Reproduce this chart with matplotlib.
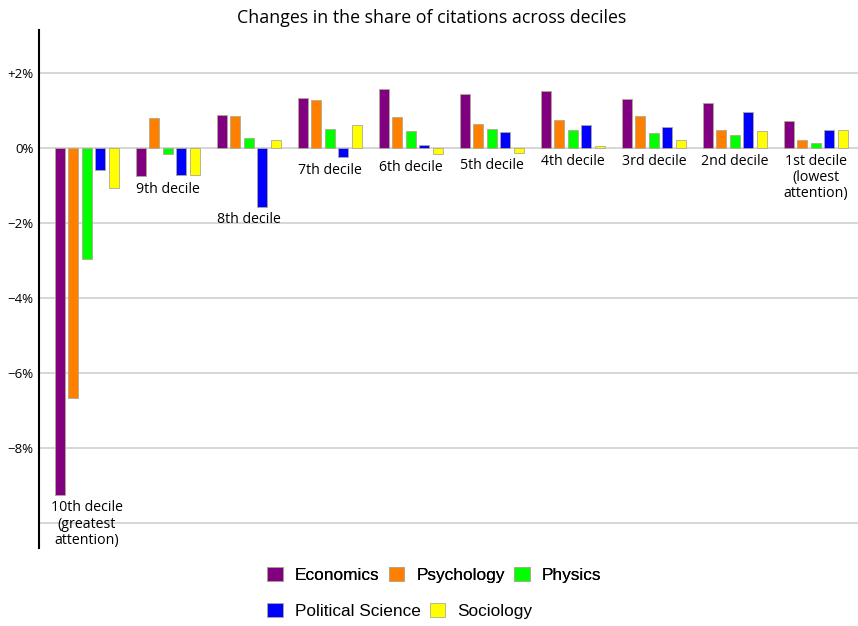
import numpy as np
import matplotlib
matplotlib.use("Agg")
import matplotlib.pyplot as plt
from matplotlib.patches import Patch

deciles = ["10th decile\n(greatest\nattention)", "9th decile", "8th decile", "7th decile",
           "6th decile", "5th decile", "4th decile", "3rd decile", "2nd decile",
           "1st decile\n(lowest\nattention)"]
fields = ["Economics", "Psychology", "Physics", "Political Science", "Sociology"]
colors = ["#800080", "#ff7f00", "#00ff00", "#0000ff", "#ffff00"]

# change in share of citations, percentage points
economics = [-9.25, -0.75, 0.88, 1.33, 1.57, 1.44, 1.52, 1.31, 1.20, 0.72]
psychology = [-6.67, 0.80, 0.85, 1.28, 0.83, 0.64, 0.75, 0.85, 0.48, 0.21]
physics = [-2.96, -0.16, 0.27, 0.51, 0.45, 0.51, 0.48, 0.40, 0.35, 0.13]
polisci = [-0.59, -0.72, -1.57, -0.24, 0.08, 0.43, 0.61, 0.56, 0.96, 0.48]
sociology = [-1.07, -0.72, 0.21, 0.61, -0.16, -0.13, 0.05, 0.21, 0.45, 0.48]
series = [economics, psychology, physics, polisci, sociology]

yticks = [2, 0, -2, -4, -6, -8]
ytick_labels = ["+2%", "0%", "\u22122%", "\u22124%", "\u22126%", "\u22128%"]

fig = plt.figure(figsize=(8.58, 6.26), dpi=100)
ax = fig.add_axes([39/858, 78/626, 819/858, 518/626])

x = np.arange(len(deciles))
step = 0.167
width = 0.125
for i, (vals, c) in enumerate(zip(series, colors)):
    ax.bar(x + (i - 2) * step, vals, width, color=c, edgecolor="#b0aa90",
           linewidth=0.6, zorder=3)

for g in [2, 0, -2, -4, -6, -8, -10]:
    ax.axhline(g, color="#d0d0d0", linewidth=1.2, zorder=1)

# decile labels sit just under the lowest point of each group
for i, lab in enumerate(deciles):
    low = min(0, min(s[i] for s in series))
    ax.annotate(lab, (x[i], low), xytext=(0, -4), textcoords="offset points",
                ha="center", va="top", fontsize=10.2, family="Open Sans",
                linespacing=1.12)

ax.set_xlim(-0.59, 9.52)
ax.set_ylim(-10.67, 3.15)
ax.set_yticks(yticks)
ax.set_yticklabels(ytick_labels, fontsize=9.5, family="Open Sans")
ax.tick_params(axis="y", length=0, pad=4)
ax.set_xticks([])
for side in ["top", "right", "bottom"]:
    ax.spines[side].set_visible(False)
ax.spines["left"].set_linewidth(1.5)

fig.text(0.503, 0.972, "Changes in the share of citations across deciles",
         ha="center", va="center", fontsize=12.8, family="Open Sans")

handles = [Patch(facecolor=c, edgecolor="#b0aa90", linewidth=0.6) for c in colors]
leg_kw = dict(frameon=False, prop={"family": "Liberation Sans", "size": 12.4},
              handlelength=0.9, handleheight=0.9, handletextpad=0.7,
              columnspacing=0.55, borderaxespad=0, borderpad=0)
leg1 = fig.legend(handles[:3], fields[:3], ncol=3, loc="center left",
                  bbox_to_anchor=(267/858, 1 - 575/626), **leg_kw)
fig.add_artist(leg1)
fig.legend(handles[3:], fields[3:], ncol=2, loc="center left",
           bbox_to_anchor=(267/858, 1 - 611/626), **leg_kw)

fig.savefig("out.png", dpi=100)
